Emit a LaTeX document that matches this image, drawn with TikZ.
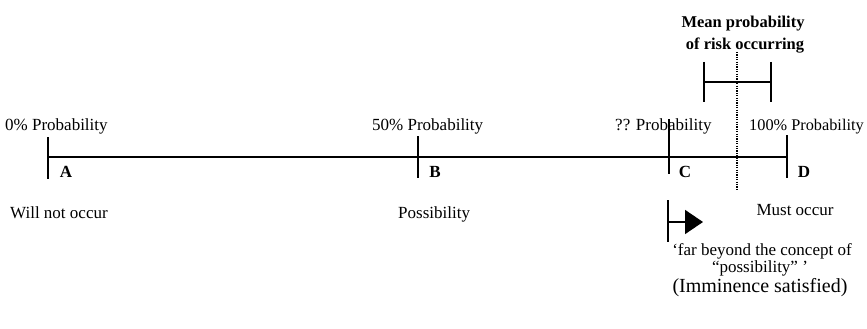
\documentclass[tikz,border=0pt]{standalone}
\usepackage{fontspec}
\setmainfont{Liberation Serif}
\usetikzlibrary{arrows.meta}
\begin{document}
\begin{tikzpicture}[x=1pt,y=-1pt,
  lbl/.style={font=\fontsize{17}{19}\selectfont, inner sep=0pt, anchor=base west},
  ctr/.style={font=\fontsize{17}{19}\selectfont, inner sep=0pt, anchor=base},
  letter/.style={font=\fontsize{17}{19}\selectfont\bfseries, inner sep=0pt, anchor=base},
  head/.style={font=\fontsize{16.5}{19}\selectfont\bfseries, inner sep=0pt, anchor=base},
  big/.style={font=\fontsize{20}{22}\selectfont, inner sep=0pt, anchor=base},
  axis/.style={line width=1.9pt},
  tick/.style={line width=1.7pt},
  meanline/.style={line width=1.2pt, dash pattern=on 1.2pt off 1.2pt}]
\useasboundingbox (0,0) rectangle (867,329);
% tick end points
\coordinate (At) at (48,137);  \coordinate (Ab) at (48,179);
\coordinate (Bt) at (418,136); \coordinate (Bb) at (418,178);
\coordinate (Ct) at (669,119); \coordinate (Cb) at (669,174);
\coordinate (Dt) at (787,135); \coordinate (Db) at (787,178);
\coordinate (A0) at (48,157);  \coordinate (D0) at (787,157);
% axis and ticks
\draw[axis] (A0) -- (D0);
\draw[tick] (At) -- (Ab);
\draw[tick] (Bt) -- (Bb);
\draw[tick] (Ct) -- (Cb);
\draw[tick] (Dt) -- (Db);
% mean bracket
\coordinate (Mt) at (737,52); \coordinate (Mb) at (737,190);
\draw[meanline] (Mt) -- (Mb);
\coordinate (Llt) at (704,62); \coordinate (Llb) at (704,102);
\coordinate (Rrt) at (771,62); \coordinate (Rrb) at (771,102);
\coordinate (Lm) at (704,82);  \coordinate (Rm) at (771,82);
\draw[tick] (Llt) -- (Llb);
\draw[tick] (Rrt) -- (Rrb);
\draw[tick] (Lm) -- (Rm);
\node[head] (mean1) at (743,28) {Mean probability};
\node[head] (mean2) at (745,50) {of risk occurring};
% probability labels
\node[lbl] (p0) at (5,130) {0\% Probability};
\node[lbl] (p50) at (372,130) {50\% Probability};
\node[lbl] (pq) at (615,130) {?? Probability};
\node[lbl, font=\fontsize{16.3}{19}\selectfont] (p100) at (749,130) {100\% Probability};
% letters
\node[letter] (la) at (66,177) {A};
\node[letter] (lb) at (435,177) {B};
\node[letter] (lc) at (685,177) {C};
\node[letter] (ld) at (804,177) {D};
% lower labels
\node[lbl] (will) at (10,218) {Will not occur};
\node[lbl] (poss) at (398,218) {Possibility};
\node[ctr] (must) at (795,215) {Must occur};
% arrow
\coordinate (Kt) at (668,200); \coordinate (Kb) at (668,242);
\coordinate (Km) at (668,222); \coordinate (Ke) at (703,222);
\draw[tick] (Kt) -- (Kb);
\draw[tick, -{Triangle[length=18pt,width=24pt]}] (Km) -- (Ke);
\node[ctr] (far1) at (762,255) {‘far beyond the concept of};
\node[ctr] (far2) at (760,272) {“possibility” ’};
\node[big] (imm) at (760,292) {(Imminence satisfied)};
\end{tikzpicture}
\end{document}
